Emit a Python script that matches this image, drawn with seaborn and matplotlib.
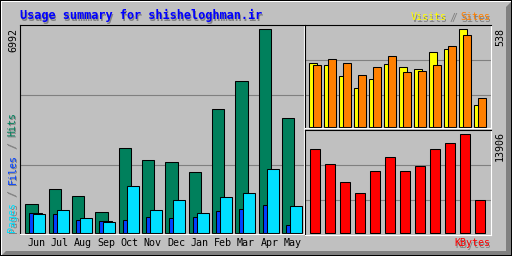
import numpy as np
import matplotlib
matplotlib.use('Agg')
import matplotlib.pyplot as plt
import seaborn as sns
from matplotlib.patches import Rectangle, Polygon

# ---------------- data ----------------
months = ['Jun', 'Jul', 'Aug', 'Sep', 'Oct', 'Nov', 'Dec', 'Jan', 'Feb', 'Mar', 'Apr', 'May']
hits = [994, 1508, 1268, 720, 2913, 2502, 2433, 2091, 4250, 5209, 6992, 3941]
files = [685, 651, 446, 411, 446, 548, 514, 548, 754, 823, 960, 274]
pages = [651, 788, 514, 377, 1611, 788, 1131, 685, 1234, 1371, 2193, 925]
visits = [351, 340, 280, 214, 264, 346, 329, 318, 412, 428, 538, 121]
sites = [340, 373, 351, 286, 329, 390, 302, 307, 340, 445, 505, 159]
kbytes = [11799, 9692, 7164, 5619, 8709, 10675, 8709, 9411, 11799, 12642, 13906, 4635]
title = 'Usage summary for shisheloghman.ir'
max_hits_label = '6992'
max_visits_label = '538'
max_kbytes_label = '13906'

# ---------------- style ----------------
BG = '#C0C0C0'
DK = '#808080'
HITC = '#00805C'
FILEC = '#0040FF'
PAGEC = '#00E0FF'
VISITC = '#FFFF00'
SITEC = '#FF8000'
KBC = '#FF0000'
MONO = 'DejaVu Sans Mono'

sns.set_style('white')
plt.rcParams['font.family'] = [MONO, 'DejaVu Sans']

W, H = 512, 256
fig = plt.figure(figsize=(W / 100, H / 100), dpi=100, facecolor=BG)

# overlay in pixel coordinates (y down)
ax0 = fig.add_axes([0, 0, 1, 1], zorder=0)
ax0.set_xlim(0, W)
ax0.set_ylim(H, 0)
ax0.axis('off')

# outer bevel frame
ax0.add_patch(Rectangle((0, 0), W, H, facecolor=BG, edgecolor='none'))
ax0.add_patch(Polygon([(1, 1), (W - 1, 1), (W - 1, 2), (1, 2)], closed=True, facecolor='white', edgecolor='none'))
ax0.add_patch(Polygon([(1, 1), (2, 1), (2, H - 1), (1, H - 1)], closed=True, facecolor='white', edgecolor='none'))
ax0.add_patch(Polygon([(2, H - 1), (W - 1, H - 1), (W - 1, H - 5), (6, H - 5)], closed=True, facecolor=DK, edgecolor='none'))
ax0.add_patch(Polygon([(W - 1, 2), (W - 1, H - 1), (W - 6, H - 1), (W - 6, 7)], closed=True, facecolor=DK, edgecolor='none'))
for r in [(0, 0, W, 1), (0, H - 1, W, 1), (0, 0, 1, H), (W - 1, 0, 1, H)]:
    ax0.add_patch(Rectangle(r[:2], r[2], r[3], facecolor='black', edgecolor='none'))


def px_axes(x0, y0, x1, y1):
    ax = fig.add_axes([x0 / W, 1 - y1 / H, (x1 - x0) / W, (y1 - y0) / H], zorder=1)
    ax.set_facecolor(BG)
    for s in ['top', 'left']:
        ax.spines[s].set_color('black')
    for s in ['bottom', 'right']:
        ax.spines[s].set_color('white')
    for s in ax.spines.values():
        s.set_linewidth(0.8)
    return ax


def bars(ax, pos, vals, color, width):
    sns.barplot(x=pos, y=vals, native_scale=True, orient='x', width=width,
                color=color, saturation=1, edgecolor='black', linewidth=0.75,
                errorbar=None, ax=ax, zorder=2)


def grid(ax, fracs):
    for f in fracs:
        ax.plot([0, 1], [f, f], transform=ax.transAxes, color=DK, lw=0.8, zorder=1)


idx = np.arange(len(months))

# ---------------- main panel ----------------
axm = px_axes(20, 25, 304, 234)
grid(axm, [0.665, 0.330])
bars(axm, idx + 0.49, hits, HITC, 0.53)
bars(axm, idx + 0.66, files, FILEC, 0.53)
bars(axm, idx + 0.83, pages, PAGEC, 0.52)
sm = 6992 / 204.0
axm.set_xlim(0, 284 / 23.33)
axm.set_ylim(-1 * sm, 208 * sm)
axm.set_yticks([])
axm.set_xticks(idx + 0.69, labels=months)
axm.tick_params(axis='x', length=0, pad=2.6, labelsize=7.2, labelcolor='black')
axm.set_xlabel('')
axm.set_ylabel('')

# ---------------- top right: visits / sites ----------------
axv = px_axes(305, 25, 491, 128)
grid(axv, [0.660, 0.320])
bars(axv, idx + 0.55, visits, VISITC, 0.55)
bars(axv, idx + 0.79, sites, SITEC, 0.55)
sv = 538 / 98.0
axv.set_xlim(0, 186 / 15.0)
axv.set_ylim(-1 * sv, 102 * sv)
axv.set_xticks([])
axv.set_yticks([])
axv.set_xlabel('')
axv.set_ylabel('')

# ---------------- bottom right: kbytes ----------------
axk = px_axes(305, 130, 491, 235)
grid(axk, [0.667, 0.333])
bars(axk, idx + 0.67, kbytes, KBC, 0.65)
sk = 13906 / 99.0
axk.set_xlim(0, 186 / 15.0)
axk.set_ylim(-2 * sk, 103 * sk)
axk.set_xticks([])
axk.set_yticks([])
axk.set_xlabel('')
axk.set_ylabel('')


# ---------------- texts ----------------
def stext(x, y, s, color, **kw):
    ax0.text(x + 1, y + 1, s, color=DK, **kw)
    ax0.text(x, y, s, color=color, **kw)


stext(20, 19.5, title, '#0000FF', fontsize=8.6, fontweight='bold', ha='left', va='baseline', family=MONO)

small = dict(fontsize=7.2, family=MONO)
stext(411, 20.5, 'Visits', VISITC, ha='left', va='baseline', **small)
stext(453, 20.5, '/', DK, ha='center', va='baseline', **small)
stext(490, 20.5, 'Sites', SITEC, ha='right', va='baseline', **small)

stext(490, 246.5, 'KBytes', KBC, ha='right', va='baseline', **small)

cw = 6.0
ybot = 232
for n, s, c in [(0, 'Pages', PAGEC), (6, '/', DK), (8, 'Files', FILEC), (14, '/', DK), (16, 'Hits', HITC)]:
    stext(12.5, ybot - n * cw, s, c, ha='center', va='bottom', rotation=90, **small)

ax0.text(13, 27.5, max_hits_label, color='black', ha='center', va='top', rotation=90, **small)
ax0.text(500, 27.5, max_visits_label, color='black', ha='center', va='top', rotation=90, **small)
ax0.text(500, 131, max_kbytes_label, color='black', ha='center', va='top', rotation=90, **small)

fig.savefig('out.png', dpi=100, facecolor=BG)
